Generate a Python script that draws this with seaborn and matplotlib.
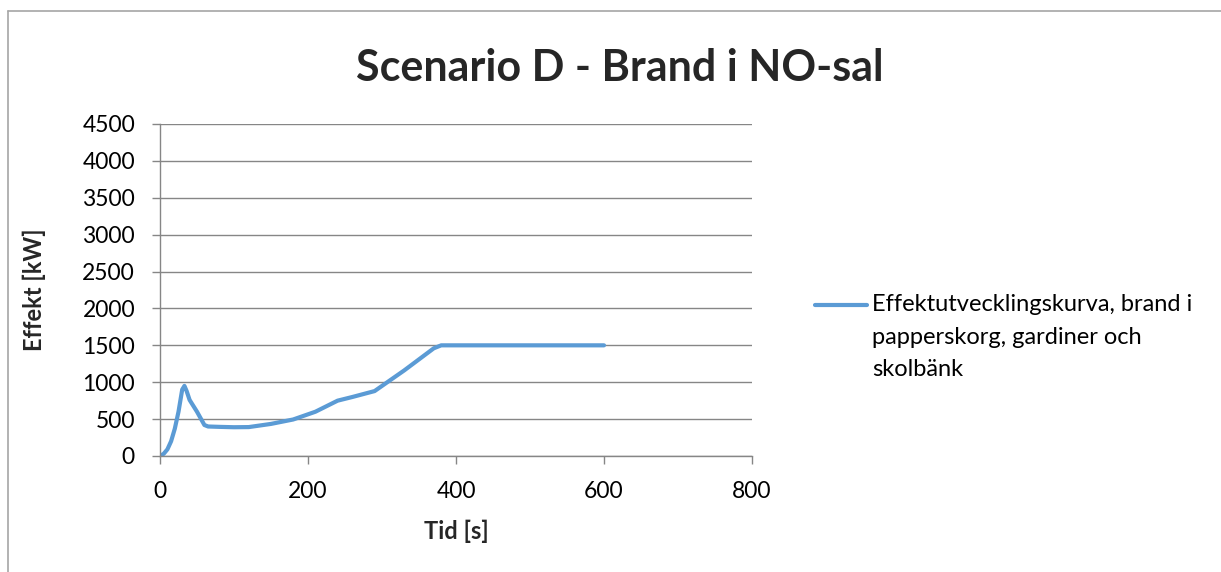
import matplotlib
matplotlib.use("Agg")
import matplotlib.pyplot as plt
import seaborn as sns
import pandas as pd
from matplotlib.lines import Line2D

# Heat release rate curve
tid_s = [0, 5, 10, 15, 20, 25, 30, 33, 36, 40, 50, 60, 65, 80, 100, 120, 150,
         180, 210, 240, 260, 290, 330, 370, 380, 600]
effekt_kw = [0, 30, 90, 200, 370, 600, 900, 950, 880, 760, 600, 420, 400, 395,
             390, 392, 435, 495, 600, 750, 800, 880, 1160, 1460, 1500, 1500]

title = "Scenario D - Brand i NO-sal"
xlabel = "Tid [s]"
ylabel = "Effekt [kW]"
series_label = "Effektutvecklingskurva, brand i\npapperskorg, gardiner och\nskolbänk"
xticks = [0, 200, 400, 600, 800]
yticks = [0, 500, 1000, 1500, 2000, 2500, 3000, 3500, 4000, 4500]

df = pd.DataFrame({"tid": tid_s, "effekt": effekt_kw})

sns.set_theme(style="white")
plt.rcParams["font.family"] = ["Lato", "DejaVu Sans"]

W, H = 1221, 572
fig = plt.figure(figsize=(W / 100, H / 100), dpi=100)
ax = fig.add_axes([160 / W, 1 - 456 / H, (752 - 160) / W, (456 - 124) / H])

line_color = "#5b9bd5"
grid_color = "#868686"

sns.lineplot(data=df, x="tid", y="effekt", ax=ax, color=line_color,
             linewidth=3, legend=False)

ax.set_xlim(0, 800)
ax.set_ylim(0, 4500)
ax.set_xticks(xticks)
ax.set_yticks(yticks)
ax.set_xticklabels([str(v) for v in xticks])
ax.set_yticklabels([str(v) for v in yticks])
ax.yaxis.grid(True, color=grid_color, linewidth=1)
ax.xaxis.grid(False)
for side in ["top", "right"]:
    ax.spines[side].set_visible(False)
for side in ["left", "bottom"]:
    ax.spines[side].set_color(grid_color)
    ax.spines[side].set_linewidth(1)
ax.tick_params(axis="both", which="both", direction="out", length=6,
               width=1, color=grid_color, labelsize=16.5, labelcolor="black",
               bottom=True, left=True)
ax.tick_params(axis="y", pad=12)
ax.tick_params(axis="x", pad=12)

ax.set_xlabel(xlabel, fontsize=17, fontweight="bold", labelpad=13)
ax.set_ylabel(ylabel, fontsize=17, fontweight="bold", labelpad=26)

fig.text(620 / W, 1 - 68 / H, title, ha="center", va="center",
         fontsize=31, fontweight="bold")

# legend: sample line next to the first line of the wrapped label
fig.add_artist(Line2D([815 / W, 867 / W], [1 - 305 / H, 1 - 305 / H],
                      color=line_color, linewidth=3,
                      transform=fig.transFigure))
fig.text(872 / W, 1 - 294 / H, series_label, ha="left", va="top",
         fontsize=17, linespacing=1.68, color="black")

# outer chart border
fig.add_artist(Line2D([8 / W, 8 / W], [0, 1 - 11 / H], color="#a6a6a6",
                      linewidth=1.2, transform=fig.transFigure))
fig.add_artist(Line2D([8 / W, 1], [1 - 11 / H, 1 - 11 / H], color="#a6a6a6",
                      linewidth=1.2, transform=fig.transFigure))

fig.savefig("out.png", dpi=100, facecolor="white")
